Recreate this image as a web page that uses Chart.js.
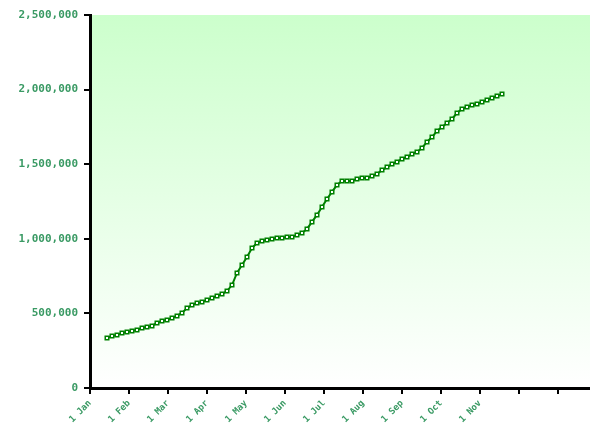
<!DOCTYPE html>
<html>
<head>
<meta charset="utf-8">
<script src="https://cdn.jsdelivr.net/npm/chart.js@4/dist/chart.umd.min.js"></script>
<style>
    html, body { margin: 0; padding: 0; background: #ffffff; overflow: hidden; }
    canvas { display: block; }
</style>
</head>
<body>
<canvas id="lineChart" width="590" height="437"></canvas>
<script>
// Chart data
const xLabels = ['1 Jan', '1 Feb', '1 Mar', '1 Apr', '1 May', '1 Jun', '1 Jul', '1 Aug', '1 Sep', '1 Oct', '1 Nov', '', ''];
const yTicks = [0, 500000, 1000000, 1500000, 2000000, 2500000];
const totals = [
    335000, 348000, 355000, 369000, 375000, 382000, 389000, 402000, 409000, 416000,
    436000, 449000, 456000, 469000, 483000, 503000, 536000, 556000, 570000, 576000,
    590000, 603000, 617000, 630000, 650000, 690000, 771000, 824000, 878000, 938000,
    972000, 985000, 992000, 999000, 1005000, 1005000, 1012000, 1012000, 1025000, 1039000,
    1066000, 1113000, 1160000, 1213000, 1267000, 1314000, 1361000, 1387000, 1387000, 1387000,
    1401000, 1408000, 1408000, 1421000, 1434000, 1461000, 1481000, 1501000, 1515000, 1535000,
    1548000, 1568000, 1582000, 1609000, 1649000, 1682000, 1722000, 1749000, 1776000, 1803000,
    1843000, 1870000, 1883000, 1897000, 1903000, 1917000, 1930000, 1944000, 1957000, 1970000
];

const green = '#3a9a64';

document.addEventListener('DOMContentLoaded', function() {
    initLineChart();
});

function initLineChart() {
    const ctx = document.getElementById('lineChart').getContext('2d');

    const points = totals.map((v, i) => ({ x: i, y: v }));

    // plot area background: light green fading to white
    const areaFill = {
        id: 'areaFill',
        beforeDraw(chart) {
            const a = chart.chartArea;
            const c = chart.ctx;
            const g = c.createLinearGradient(0, a.top, 0, a.bottom);
            g.addColorStop(0, '#ccffcc');
            g.addColorStop(1, '#ffffff');
            c.save();
            c.fillStyle = g;
            c.fillRect(a.left, a.top, a.right - a.left, a.bottom - a.top);
            c.restore();
        }
    };

    new Chart(ctx, {
        type: 'line',
        data: {
            datasets: [{
                label: 'Total',
                data: points,
                borderColor: '#008000',
                borderWidth: 2,
                tension: 0,
                pointStyle: 'rect',
                pointRadius: 2.5,
                pointBorderWidth: 1.5,
                pointBackgroundColor: '#ffffff',
                pointBorderColor: '#008000'
            }]
        },
        options: {
            responsive: false,
            animation: false,
            layout: { autoPadding: false, padding: { top: 15, right: 0, left: 0, bottom: 0 } },
            plugins: {
                legend: { display: false },
                tooltip: { enabled: false }
            },
            scales: {
                x: {
                    type: 'linear',
                    min: -3.4,
                    max: 96.6,
                    afterBuildTicks: function(scale) {
                        scale.ticks = xLabels.map((l, k) => ({ value: -3.4 + 7.8 * k }));
                    },
                    afterFit: function(scale) {
                        scale.height = 49;
                        scale.paddingLeft = 0;
                        scale.paddingRight = 0;
                    },
                    border: { color: '#000000', width: 3 },
                    grid: { drawOnChartArea: false, color: '#000000', lineWidth: 2, tickLength: 6 },
                    ticks: {
                        color: green,
                        autoSkip: false,
                        maxRotation: 45,
                        minRotation: 45,
                        padding: 4,
                        font: { family: 'DejaVu Sans Mono', size: 9, weight: 'bold' },
                        callback: function(value, index) {
                            return xLabels[index];
                        }
                    }
                },
                y: {
                    min: 0,
                    max: 2500000,
                    afterBuildTicks: function(scale) {
                        scale.ticks = yTicks.map(v => ({ value: v }));
                    },
                    afterFit: function(scale) {
                        scale.width = 90;
                        scale.paddingTop = 0;
                        scale.paddingBottom = 0;
                    },
                    border: { color: '#000000', width: 3 },
                    grid: { drawOnChartArea: false, color: '#000000', lineWidth: 2, tickLength: 6 },
                    ticks: {
                        color: green,
                        padding: 6,
                        font: { family: 'DejaVu Sans Mono', size: 11, weight: 'bold' },
                        callback: function(value) {
                            return value.toLocaleString('en-US');
                        }
                    }
                }
            }
        },
        plugins: [areaFill]
    });
}
</script>
</body>
</html>
